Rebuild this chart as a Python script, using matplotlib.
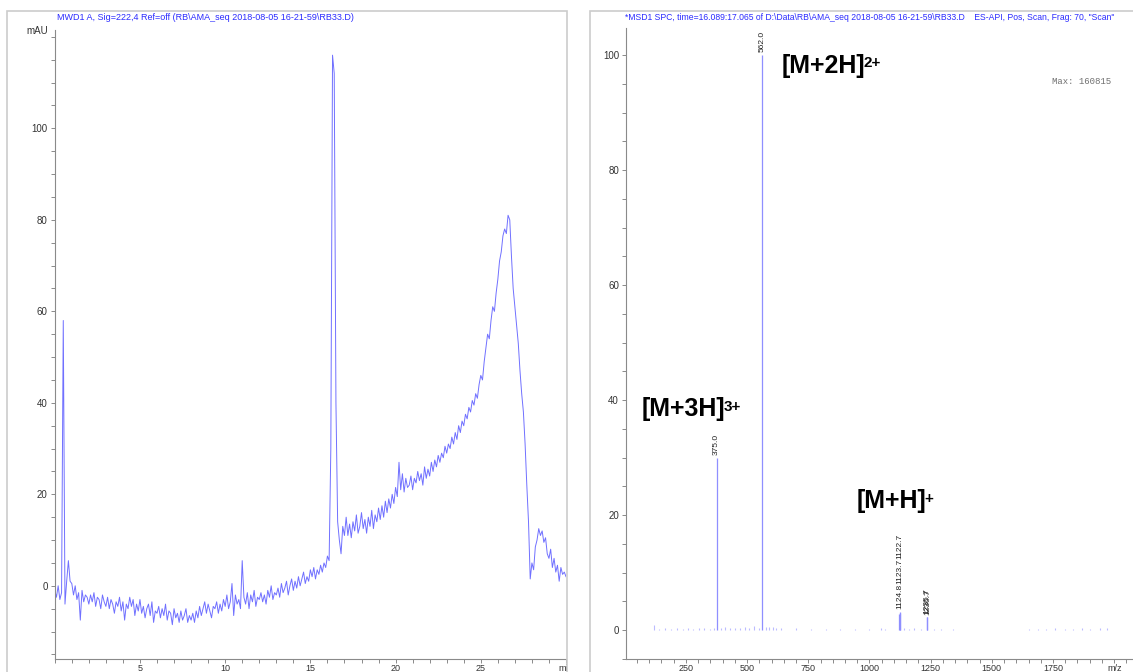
import matplotlib.pyplot as plt
import numpy as np
from matplotlib.patches import Rectangle


# UV trace (MWD1 A, 222 nm), one point every 0.1 min from 0 to 30 min
uv_time = np.round(np.arange(0, 301) * 0.1, 1)
uv_mau = [
    -1.0, -2.5, 0.0, -3.0, -1.5, 58.0, -4.0, 1.0, 5.5, 1.0,
    0.5, -2.0, 0.0, -3.0, -1.5, -7.5, -1.0, -3.5, -2.0, -2.5,
    -4.0, -2.0, -3.5, -1.5, -4.5, -2.5, -3.0, -5.0, -2.0, -3.5,
    -4.5, -2.5, -5.0, -3.0, -4.0, -6.0, -3.5, -4.5, -2.5, -5.5,
    -3.5, -7.5, -4.0, -5.0, -2.5, -4.5, -3.0, -6.5, -4.0, -5.5,
    -3.0, -6.0, -4.5, -7.0, -5.0, -4.0, -6.5, -3.5, -8.0, -5.5,
    -6.0, -4.5, -7.0, -5.0, -6.5, -4.0, -7.5, -5.5, -6.0, -8.5,
    -5.0, -7.0, -6.0, -8.0, -5.5, -7.5, -6.5, -5.0, -8.0, -6.5,
    -7.5, -6.0, -8.0, -5.5, -7.0, -4.5, -6.5, -5.0, -3.5, -6.0,
    -4.0, -5.5, -7.0, -4.5, -5.0, -3.5, -6.0, -4.0, -5.5, -3.0,
    -4.5, -2.0, -5.0, -3.5, 0.5, -6.5, -2.0, -4.0, -3.0, -5.0,
    5.5, -2.5, -4.0, -1.5, -5.0, -2.0, -3.5, -1.0, -4.5, -2.5,
    -3.0, -1.5, -3.5, -2.0, -4.0, -1.0, -2.5, 0.0, -3.0, -1.5,
    -2.0, -0.5, -2.5, 0.5, -1.5, -0.5, 1.0, -2.0, 0.0, 1.5,
    -1.0, 1.0, -0.5, 2.0, 0.0, 1.5, 3.0, 0.5, 2.0, 1.0,
    3.5, 2.0, 4.0, 1.5, 3.5, 2.5, 4.5, 3.0, 5.0, 4.0,
    6.5, 5.5, 30.0, 116.0, 112.0, 40.0, 14.0, 10.0, 7.0, 13.0,
    11.0, 15.0, 11.0, 13.5, 10.5, 14.0, 12.0, 15.5, 11.5, 13.0,
    16.0, 12.5, 14.5, 11.5, 15.0, 13.0, 16.5, 12.5, 15.5, 14.0,
    17.0, 14.5, 17.5, 15.0, 18.5, 16.0, 19.0, 17.0, 20.0, 18.0,
    21.5, 19.5, 27.0, 21.0, 24.5, 20.5, 23.5, 21.5, 22.0, 24.0,
    21.0, 23.5, 22.5, 25.0, 23.0, 24.5, 22.0, 26.0, 23.5, 25.5,
    24.0, 27.0, 25.0, 27.5, 26.0, 28.5, 27.0, 29.0, 28.0, 30.5,
    29.0, 31.0, 30.0, 32.5, 31.0, 33.5, 32.0, 35.0, 33.5, 36.0,
    35.0, 37.5, 36.5, 39.0, 38.0, 40.5, 39.5, 42.0, 41.0, 44.0,
    46.0, 45.0, 49.0, 52.0, 55.0, 54.0, 58.0, 61.0, 60.0, 64.0,
    67.0, 71.0, 73.0, 76.5, 78.0, 77.0, 81.0, 80.0, 72.0, 65.0,
    61.0, 57.0, 53.0, 47.0, 42.0, 38.0, 31.0, 22.0, 14.0, 1.5,
    5.0, 3.5, 8.5, 10.0, 12.5, 11.0, 12.0, 9.5, 10.5, 7.0,
    6.0, 8.0, 4.0, 6.0, 3.0, 4.5, 1.0, 4.0, 2.5, 3.0,
    2.0,
]

# mass spectrum, main ions (relative abundance in %)
ms_mz = [375.0, 562.0, 1122.7, 1123.7, 1124.8, 1235.7, 1236.7]
ms_abund = [30.0, 100.0, 2.8, 3.0, 3.2, 2.3, 2.2]
# labels drawn per group, close peaks in one group are stacked
label_groups = [[375.0], [562.0], [1124.8, 1123.7, 1122.7], [1235.7], [1236.7]]

# small background ions
noise_mz = [118, 140, 165, 190, 212, 236, 258, 280, 302, 325, 348, 366, 392, 410,
            430, 452, 470, 490, 508, 530, 548, 576, 590, 604, 618, 640, 700, 760,
            822, 880, 942, 1000, 1048, 1062, 1140, 1160, 1182, 1212, 1262, 1292,
            1342, 1652, 1690, 1722, 1760, 1800, 1832, 1870, 1902, 1942, 1972]
noise_ab = [0.8, 0.2, 0.3, 0.2, 0.3, 0.2, 0.3, 0.2, 0.4, 0.3, 0.2, 0.4, 0.3, 0.5,
            0.3, 0.4, 0.3, 0.5, 0.4, 0.7, 0.4, 0.6, 0.5, 0.6, 0.4, 0.3, 0.3, 0.2,
            0.2, 0.2, 0.2, 0.2, 0.3, 0.2, 0.3, 0.2, 0.3, 0.2, 0.2, 0.2,
            0.2, 0.2, 0.2, 0.2, 0.3, 0.2, 0.2, 0.3, 0.2, 0.3, 0.4]

ion_names = [('[M+3H]', '3+', 70, 37.2), ('[M+2H]', '2+', 643, 96.9), ('[M+H]', '+', 946, 21.2)]

plt.rcParams['font.family'] = ['Liberation Sans', 'DejaVu Sans']
title_blue = '#2b2bff'
trace_blue = '#7070ff'
ms_blue = '#8f8fff'
axis_grey = '#8a8a8a'

W, H = 1133, 672
fig = plt.figure(figsize=(W / 100, H / 100), dpi=100)


def style_axis(ax):
    for side in ['top', 'right']:
        ax.spines[side].set_visible(False)
    for side in ['left', 'bottom']:
        ax.spines[side].set_color(axis_grey)
        ax.spines[side].set_linewidth(0.8)
    ax.tick_params(which='both', direction='out', length=3, width=0.7, color=axis_grey,
                   labelsize=7, labelcolor='#333333', pad=2)
    ax.tick_params(axis='x', which='both', labelsize=6.5, pad=0.5)
    ax.set_facecolor('none')


# ---- left: UV chromatogram ----
ax1 = fig.add_axes([54.75 / W, 13 / H, (566 - 54.75) / W, (659 - 30) / H])
ax1.plot(uv_time, uv_mau, color=trace_blue, linewidth=0.7)
ax1.set_xlim(0, 30)
ax1.set_ylim(-16, 121.5)
ax1.set_xticks([5, 10, 15, 20, 25, 30])
ax1.set_xticklabels(['5', '10', '15', '20', '25', 'min'])
ax1.set_xticks(np.arange(0, 31, 1), minor=True)
ax1.set_yticks([0, 20, 40, 60, 80, 100])
ax1.set_yticks(np.arange(-15, 121, 5), minor=True)
style_axis(ax1)
fig.text(48 / W, 1 - 31 / H, 'mAU', ha='right', va='center', fontsize=7, color='#333333')
fig.text(57 / W, 1 - 17 / H, 'MWD1 A, Sig=222,4 Ref=off (RB\\AMA_seq 2018-08-05 16-21-59\\RB33.D)',
         ha='left', va='center', fontsize=6.5, color=title_blue)

# ---- right: mass spectrum ----
ax2 = fig.add_axes([626 / W, 13 / H, (W - 626) / W, (659 - 28) / H])
ax2.vlines(noise_mz, 0, noise_ab, color=ms_blue, linewidth=0.8, alpha=0.6)
ax2.vlines(ms_mz, 0, ms_abund, color=ms_blue, linewidth=0.9)
ax2.set_xlim(5, 2077)
ax2.set_ylim(-5.04, 104.7)
ax2.set_xticks([250, 500, 750, 1000, 1250, 1500, 1750, 2000])
ax2.set_xticklabels(['250', '500', '750', '1000', '1250', '1500', '1750', 'm/z'])
ax2.set_xticks(np.arange(50, 2077, 50), minor=True)
ax2.set_yticks([0, 20, 40, 60, 80, 100])
ax2.set_yticks(np.arange(-5, 104, 5), minor=True)
style_axis(ax2)

renderer = fig.canvas.get_renderer()
for group in label_groups:
    top = max(ms_abund[ms_mz.index(m)] for m in group)
    offset = 2
    for m in group:
        t = ax2.annotate(f'{m:.1f}', xy=(m, top), xytext=(0, offset), textcoords='offset points',
                         rotation=90, ha='center', va='bottom', fontsize=6, color='#222222')
        offset += t.get_window_extent(renderer).height * 72 / fig.dpi

for name, charge, x, y in ion_names:
    t = ax2.text(x, y, name, fontsize=18, fontweight='bold', ha='left', va='baseline', color='black')
    ax2.annotate(charge, xy=(1, 0.9), xycoords=t, xytext=(-1.5, 0), textcoords='offset points',
                 fontsize=11, fontweight='bold', ha='left', va='top', color='black')

fig.text(625 / W, 1 - 17 / H,
         '*MSD1 SPC, time=16.089:17.065 of D:\\Data\\RB\\AMA_seq 2018-08-05 16-21-59\\RB33.D'
         '    ES-API, Pos, Scan, Frag: 70, "Scan"',
         ha='left', va='center', fontsize=6.2, color=title_blue)
fig.text(1052 / W, 1 - 82 / H, 'Max: 160815', family='Liberation Mono', fontsize=6.5,
         ha='left', va='center', color='#707070')

# page frames and the gap between the two printouts
fig.add_artist(Rectangle((568 / W, 0), 21 / W, 1, transform=fig.transFigure,
                         facecolor='white', edgecolor='none', zorder=4))
fig.add_artist(Rectangle((7 / W, -0.05), 560 / W, 1.05 - 11 / H, transform=fig.transFigure,
                         fill=False, edgecolor='#cccccc', linewidth=1.2, zorder=5))
fig.add_artist(Rectangle((590 / W, -0.05), 600 / W, 1.05 - 11 / H, transform=fig.transFigure,
                         fill=False, edgecolor='#cccccc', linewidth=1.2, zorder=5))

fig.savefig('out.png', dpi=100)
